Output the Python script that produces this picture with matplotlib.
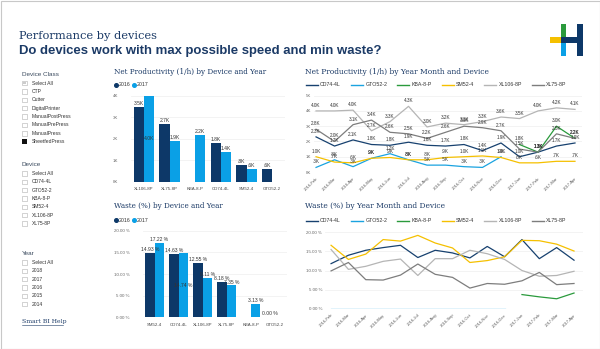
import matplotlib.pyplot as plt
from matplotlib.lines import Line2D
from matplotlib.patches import Rectangle
import numpy as np

W, H = 600, 349
nan = np.nan

# ---- data ----
years = ['2016', '2017']

prod_devices = ['XL106-8P', 'XL75-8P', 'KBA-8-P', 'CD74-4L', 'SM52-4', 'GTO52-2']
prod_2016 = [3.5, 2.7, nan, 1.8, 0.8, 0.6]
prod_2017 = [4.0, 1.9, 2.2, 1.4, 0.6, nan]

waste_devices = ['SM52-4', 'CD74-4L', 'XL106-8P', 'XL75-8P', 'KBA-8-P', 'GTO52-2']
waste_2016 = [14.93, 14.63, 12.55, 8.18, nan, 0.00]
waste_2017 = [17.22, 14.74, 9.11, 7.35, 3.13, nan]

months = ['2016-Feb', '2016-Mar', '2016-Apr', '2016-May', '2016-Jun', '2016-Jul',
          '2016-Aug', '2016-Sep', '2016-Oct', '2016-Nov', '2016-Dec', '2017-Jan',
          '2017-Feb', '2017-Mar', '2017-Apr']
line_devices = ['CD74-4L', 'GTO52-2', 'KBA-8-P', 'SM52-4', 'XL106-8P', 'XL75-8P']

prod_cd74 = [2.3, 1.7, 2.1, 1.8, 1.75, 1.95, 1.75, 1.7, 1.8, 1.4, 1.9, 1.0, 1.3, 1.7, 1.9]
prod_gto = [0.3, 0.8, 0.35, 0.9, 1.2, 0.8, 0.45, 0.45, 0.35, 0.3, 1.0, nan, nan, nan, nan]
prod_kba = [nan, nan, nan, nan, nan, nan, nan, nan, nan, nan, nan, 1.8, 1.3, 3.0, 2.2]
prod_sm52 = [1.0, 0.65, 0.6, 0.9, 0.95, 0.8, 0.8, 0.95, 1.0, 1.05, 0.95, 0.6, 0.6, 0.7, 0.7]
prod_xl106 = [4.0, 4.0, 4.05, 2.7, 3.3, 4.3, 2.95, 3.2, 3.1, 3.3, 3.6, 3.5, 4.0, 4.2, 4.1]
prod_xl75 = [2.8, 2.0, 3.1, 3.4, 2.6, 2.5, 2.2, 2.6, 3.0, 2.9, 2.7, 1.5, 1.3, 2.5, 2.2]

waste_cd74 = [11.8, 14.0, 15.3, 16.0, 16.6, 13.4, 15.3, 14.6, 13.3, 16.3, 13.6, 18.1, 13.1, 16.0, 12.7]
waste_gto = [0, 0, 0, 0, 0, 0, 0, 0, 0, 0, 0, nan, nan, nan, nan]
waste_kba = [nan, nan, nan, nan, nan, nan, nan, nan, nan, nan, nan, 3.7, 3.1, 2.6, 4.1]
waste_sm52 = [16.6, 12.9, 14.3, 18.1, 17.7, 19.2, 17.2, 15.9, 12.1, 12.6, 13.6, 17.9, 17.8, 16.9, 15.1]
waste_xl106 = [15.5, 10.3, 11.1, 12.4, 13.0, 8.7, 13.1, 13.1, 15.3, 14.4, 12.9, 10.0, 8.5, 8.7, 9.8]
waste_xl75 = [9.9, 12.1, 7.6, 7.5, 8.8, 11.7, 9.0, 8.2, 5.4, 6.6, 6.4, 7.3, 9.5, 6.3, 6.6]

device_classes = ['Select All', 'CTP', 'Cutter', 'DigitalPrinter', 'ManualPostPress',
                  'ManualPrePress', 'ManualPress', 'SheetfedPress']
year_items = ['Select All', '2018', '2017', '2016', '2015', '2014']

# ---- styles ----
NAVY = '#0d3868'
BLUE = '#0aa0e6'
line_colors = ['#17416f', '#1aa3e0', '#2a9a3c', '#f5c000', '#b5b5b5', '#7d7d7d']
TXT = '#1b3a66'
GREY = '#666666'
SERIF = ['DejaVu Serif']
SANS = ['Liberation Sans', 'DejaVu Sans']

plt.rcParams['font.family'] = SANS

fig = plt.figure(figsize=(W / 100, H / 100), dpi=100)
fig.patch.set_facecolor('white')


def box(left, top, right, bottom):
    return [left / W, 1 - bottom / H, (right - left) / W, (bottom - top) / H]


def ftext(x, y, s, **kw):
    kw.setdefault('va', 'center')
    fig.text(x / W, 1 - y / H, s, **kw)


def frect(x, y, w, h, **kw):
    fig.patches.append(Rectangle((x / W, 1 - (y + h) / H), w / W, h / H,
                                 transform=fig.transFigure, figure=fig, **kw))


def k_label(v):
    s = f'{v:.1f}K'
    return s[1:] if s.startswith('0') else s


def style_axes(ax, ylim, ticks, fmt, ypad=2):
    ax.set_ylim(*ylim)
    ax.set_yticks(ticks)
    ax.set_yticklabels([fmt(t) for t in ticks])
    for sp in ax.spines.values():
        sp.set_visible(False)
    ax.grid(axis='y', color='#eeeeee', lw=0.5)
    ax.set_axisbelow(True)
    ax.tick_params(length=0, labelsize=3.2, labelcolor=GREY)
    ax.tick_params(axis='y', pad=ypad)


# outer frame
frect(0.5, 0.5, W - 1, H - 1, fill=False, ec='#c8c8c8', lw=0.8)

# header
ftext(19, 36, 'Performance by devices', family=SERIF, size=8.2, color=TXT)
ftext(19, 51, 'Do devices work with max possible speed and min waste?',
      weight='bold', size=9.45, color=TXT)

# logo
frect(550, 37, 11, 6.3, color='#f5c000', lw=0)
frect(561, 24, 5.3, 13, color='#2a9a3c', lw=0)
frect(561, 43.3, 5.3, 12.2, color=BLUE, lw=0)
frect(561, 37, 16, 6.3, color=NAVY, lw=0)
frect(576.6, 24, 6.4, 31.5, color=NAVY, lw=0)

# slicers
def slicer(title, items, y0, checked=None, partial=None):
    ftext(22, y0, title, size=4.6, color='#3a4a5e')
    for i, item in enumerate(items):
        y = y0 + 9.2 + i * 8.35
        if item == checked:
            frect(22.3, y - 2.2, 4.4, 4.4, color='#111111', lw=0)
        else:
            frect(22.3, y - 2.2, 4.4, 4.4, fill=False, ec='#b0b0b0', lw=0.4)
            if item == partial:
                frect(23.4, y - 1.1, 2.2, 2.2, color='#cccccc', lw=0)
        ftext(31.5, y, item, size=3.6, color='#333333')


slicer('Device Class', device_classes, 74, checked='SheetfedPress', partial='Select All')
slicer('Device', ['Select All'] + line_devices, 164.3)
slicer('Year', year_items, 253.3)
ftext(22, 322, 'Smart BI Help', family=SERIF, size=4.4, color=TXT)
fig.add_artist(Line2D([22 / W, 63 / W], [1 - 325 / H, 1 - 325 / H], color=TXT, lw=0.4))


def bar_panel(ax, cats, v16, v17, ylim, ticks, tickfmt, labfmt):
    x = np.arange(len(cats))
    w = 0.39
    ax.bar(x - w / 2, v16, w, color=NAVY)
    ax.bar(x + w / 2, v17, w, color=BLUE)
    style_axes(ax, ylim, ticks, tickfmt, ypad=9)
    ax.set_xlim(-0.5, len(cats) - 0.5)
    ax.set_xticks(x)
    ax.set_xticklabels(cats)
    ax.tick_params(axis='x', labelsize=3.2, labelcolor='#444444', pad=4)
    top = ylim[1]
    for xs, vals, other in ((x - w / 2, v16, v17), (x + w / 2, v17, v16)):
        for xi, v, o in zip(xs, vals, other):
            if np.isnan(v):
                continue
            crowded = v > 0.9 * top or (not np.isnan(o) and v > o and v - o < 0.02 * top)
            if crowded:
                ax.text(xi, v / 2, labfmt(v), ha='center', va='center', size=3.6, color='#333333')
            else:
                ax.text(xi, v + 0.01 * top, labfmt(v), ha='center', va='bottom',
                        size=3.6, color='#333333')


def year_legend(x, y):
    handles = [Line2D([], [], ls='', marker='o', ms=2.6, color=c) for c in (NAVY, BLUE)]
    fig.legend(handles, years, loc='center left', bbox_to_anchor=(x / W, 1 - y / H),
               ncol=2, frameon=False, fontsize=3.8, handlelength=0.6, handletextpad=0.2,
               columnspacing=0.5, borderpad=0, borderaxespad=0, labelcolor='#333333')


def device_legend(x, y):
    handles = [Line2D([], [], color=c, lw=1.0) for c in line_colors]
    fig.legend(handles, line_devices, loc='center left', bbox_to_anchor=(x / W, 1 - y / H),
               ncol=6, frameon=False, fontsize=3.8, handlelength=2.3, handletextpad=0.4,
               columnspacing=1.9, borderpad=0, borderaxespad=0, labelcolor='#333333')


# net productivity by device and year
ftext(114, 72, 'Net Productivity (1/h) by Device and Year', family=SERIF, size=5.2, color=TXT)
year_legend(114, 85)
ax1 = fig.add_axes(box(131, 90.6, 285, 181.7))
bar_panel(ax1, prod_devices, prod_2016, prod_2017, (0, 4.25), [0, 1, 2, 3, 4],
          lambda t: f'{t:.0f}K', k_label)

# waste by device and year
ftext(114, 206, 'Waste (%) by Device and Year', family=SERIF, size=5.2, color=TXT)
year_legend(114, 220)
ax2 = fig.add_axes(box(142.5, 226.4, 287, 317.3))
bar_panel(ax2, waste_devices, waste_2016, waste_2017, (0, 21), [0, 5, 10, 15, 20],
          lambda t: f'{t:.2f} %', lambda v: f'{v:.2f} %')


def line_panel(ax, series, ylim, ticks, tickfmt, xlim, labels=False):
    x = np.arange(len(months))
    for vals, c in zip(series, line_colors):
        ax.plot(x, vals, color=c, lw=0.9)
        if labels:
            for xi, v in zip(x, vals):
                if not np.isnan(v):
                    ax.annotate(k_label(v), (xi, v), xytext=(0, 2.2), textcoords='offset points',
                                ha='center', va='bottom', size=3.3, color='#333333')
    style_axes(ax, ylim, ticks, tickfmt)
    ax.set_xlim(*xlim)
    ax.set_xticks(x)
    ax.set_xticklabels(months, rotation=45, ha='right', rotation_mode='anchor')
    ax.tick_params(axis='x', labelsize=3.0, labelcolor='#555555', pad=3)


# net productivity by year month and device
ftext(305, 72, 'Net Productivity (1/h) by Year Month and Device', family=SERIF, size=5.4, color=TXT)
device_legend(306, 85)
ax3 = fig.add_axes(box(314.2, 92.6, 582.4, 172))
line_panel(ax3, [prod_cd74, prod_gto, prod_kba, prod_sm52, prod_xl106, prod_xl75],
           (0, 5.2), [0, 1, 2, 3, 4, 5], lambda t: f'{t:.0f}K', (-0.1, 14.4), labels=True)

# waste by year month and device
ftext(305, 206, 'Waste (%) by Year Month and Device', family=SERIF, size=5.4, color=TXT)
device_legend(306, 221)
ax4 = fig.add_axes(box(325, 228.5, 582.7, 308.7))
line_panel(ax4, [waste_cd74, waste_gto, waste_kba, waste_sm52, waste_xl106, waste_xl75],
           (0, 21), [0, 5, 10, 15, 20], lambda t: f'{t:.2f} %', (-0.35, 14.5))

fig.savefig('out.png', dpi=100)
